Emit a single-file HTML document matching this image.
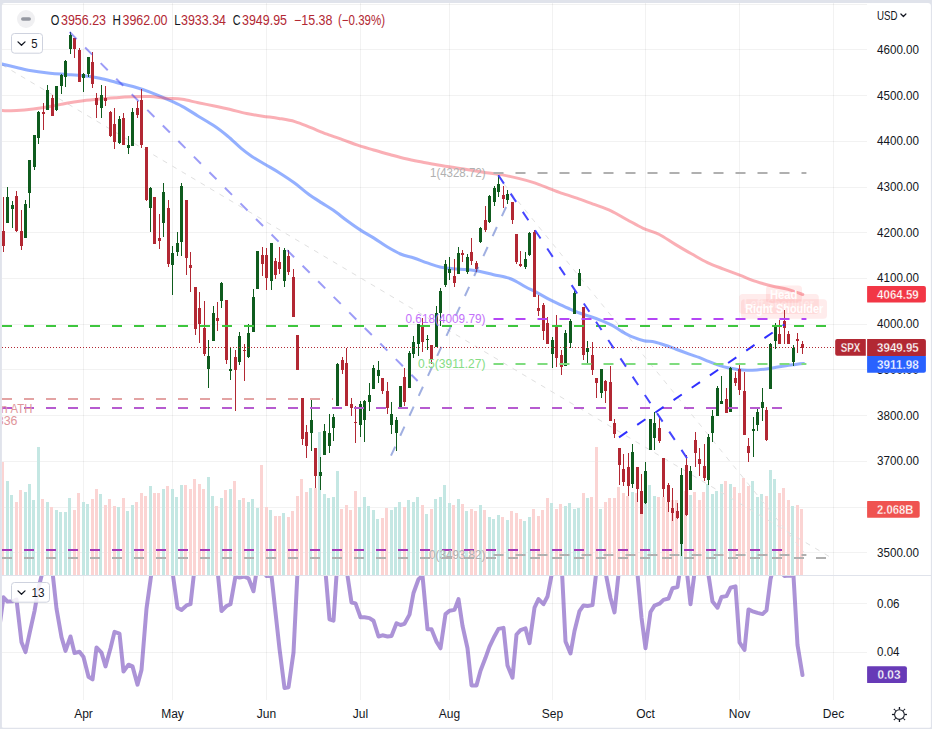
<!DOCTYPE html>
<html><head><meta charset="utf-8"><title>SPX</title>
<style>
html,body{margin:0;padding:0;background:#e0e3eb;}
body{width:932px;height:729px;overflow:hidden;position:relative;font-family:"Liberation Sans", sans-serif;}
svg{position:absolute;left:0;top:0;display:block}
text{font-family:"Liberation Sans", sans-serif;}
</style></head><body>
<svg width="932" height="729" viewBox="0 0 932 729">
<defs><clipPath id="cm"><rect x="2" y="3" width="865" height="572"/></clipPath><clipPath id="ci"><rect x="2" y="576" width="865" height="124"/></clipPath></defs>
<rect x="0" y="0" width="932" height="729" fill="#e0e3eb"/>
<path d="M4.9 2.9 H927.9 Q930.9 2.9 930.9 5.9 V726.2 Q930.9 727.7 929.4 727.7 H3.4 Q1.9 727.7 1.9 726.2 V5.9 Q1.9 2.9 4.9 2.9 Z" fill="#ffffff"/>
<g shape-rendering="crispEdges" fill="#2a332e" fill-opacity="0.062">
<rect x="2" y="4" width="865" height="1"/>
<rect x="2" y="49" width="865" height="1"/>
<rect x="2" y="95" width="865" height="1"/>
<rect x="2" y="141" width="865" height="1"/>
<rect x="2" y="187" width="865" height="1"/>
<rect x="2" y="232" width="865" height="1"/>
<rect x="2" y="278" width="865" height="1"/>
<rect x="2" y="324" width="865" height="1"/>
<rect x="2" y="369" width="865" height="1"/>
<rect x="2" y="415" width="865" height="1"/>
<rect x="2" y="461" width="865" height="1"/>
<rect x="2" y="507" width="865" height="1"/>
<rect x="2" y="552" width="865" height="1"/>
<rect x="2" y="603" width="865" height="1"/>
<rect x="2" y="652" width="865" height="1"/>
<rect x="83" y="3" width="1" height="697"/>
<rect x="172" y="3" width="1" height="697"/>
<rect x="266" y="3" width="1" height="697"/>
<rect x="360" y="3" width="1" height="697"/>
<rect x="449" y="3" width="1" height="697"/>
<rect x="552" y="3" width="1" height="697"/>
<rect x="645" y="3" width="1" height="697"/>
<rect x="739" y="3" width="1" height="697"/>
<rect x="833" y="3" width="1" height="697"/>
</g>
<rect x="2" y="575" width="929" height="1" fill="#e0e3eb" shape-rendering="crispEdges"/>
<g shape-rendering="crispEdges" clip-path="url(#cm)">
<rect x="1" y="462" width="3" height="113" fill="#fbd4d3"/>
<rect x="6" y="481" width="3" height="94" fill="#c4e7e3"/>
<rect x="10" y="495" width="3" height="80" fill="#c4e7e3"/>
<rect x="15" y="502" width="3" height="73" fill="#fbd4d3"/>
<rect x="19" y="490" width="3" height="85" fill="#fbd4d3"/>
<rect x="24" y="492" width="3" height="83" fill="#c4e7e3"/>
<rect x="28" y="484" width="3" height="91" fill="#c4e7e3"/>
<rect x="32" y="500" width="3" height="75" fill="#c4e7e3"/>
<rect x="37" y="447" width="3" height="128" fill="#c4e7e3"/>
<rect x="41" y="499" width="3" height="76" fill="#fbd4d3"/>
<rect x="46" y="502" width="3" height="73" fill="#c4e7e3"/>
<rect x="50" y="507" width="3" height="68" fill="#fbd4d3"/>
<rect x="55" y="510" width="3" height="65" fill="#c4e7e3"/>
<rect x="59" y="512" width="3" height="63" fill="#c4e7e3"/>
<rect x="64" y="512" width="3" height="63" fill="#c4e7e3"/>
<rect x="68" y="498" width="3" height="77" fill="#c4e7e3"/>
<rect x="73" y="510" width="3" height="65" fill="#fbd4d3"/>
<rect x="77" y="493" width="3" height="82" fill="#fbd4d3"/>
<rect x="82" y="502" width="3" height="73" fill="#c4e7e3"/>
<rect x="86" y="504" width="3" height="71" fill="#c4e7e3"/>
<rect x="91" y="499" width="3" height="76" fill="#fbd4d3"/>
<rect x="95" y="489" width="3" height="86" fill="#fbd4d3"/>
<rect x="99" y="494" width="3" height="81" fill="#c4e7e3"/>
<rect x="104" y="505" width="3" height="70" fill="#fbd4d3"/>
<rect x="108" y="499" width="3" height="76" fill="#fbd4d3"/>
<rect x="113" y="506" width="3" height="69" fill="#fbd4d3"/>
<rect x="117" y="507" width="3" height="68" fill="#c4e7e3"/>
<rect x="122" y="498" width="3" height="77" fill="#fbd4d3"/>
<rect x="126" y="511" width="3" height="64" fill="#c4e7e3"/>
<rect x="131" y="505" width="3" height="70" fill="#c4e7e3"/>
<rect x="135" y="502" width="3" height="73" fill="#fbd4d3"/>
<rect x="140" y="493" width="3" height="82" fill="#fbd4d3"/>
<rect x="144" y="496" width="3" height="79" fill="#fbd4d3"/>
<rect x="149" y="486" width="3" height="89" fill="#c4e7e3"/>
<rect x="153" y="493" width="3" height="82" fill="#fbd4d3"/>
<rect x="157" y="493" width="3" height="82" fill="#fbd4d3"/>
<rect x="162" y="489" width="3" height="86" fill="#c4e7e3"/>
<rect x="166" y="486" width="3" height="89" fill="#fbd4d3"/>
<rect x="171" y="489" width="3" height="86" fill="#c4e7e3"/>
<rect x="175" y="497" width="3" height="78" fill="#c4e7e3"/>
<rect x="180" y="485" width="3" height="90" fill="#c4e7e3"/>
<rect x="184" y="485" width="3" height="90" fill="#fbd4d3"/>
<rect x="189" y="489" width="3" height="86" fill="#fbd4d3"/>
<rect x="193" y="479" width="3" height="96" fill="#fbd4d3"/>
<rect x="198" y="484" width="3" height="91" fill="#fbd4d3"/>
<rect x="202" y="489" width="3" height="86" fill="#fbd4d3"/>
<rect x="207" y="477" width="3" height="98" fill="#c4e7e3"/>
<rect x="211" y="496" width="3" height="79" fill="#c4e7e3"/>
<rect x="215" y="506" width="3" height="69" fill="#fbd4d3"/>
<rect x="220" y="498" width="3" height="77" fill="#c4e7e3"/>
<rect x="224" y="490" width="3" height="85" fill="#fbd4d3"/>
<rect x="229" y="489" width="3" height="86" fill="#c4e7e3"/>
<rect x="233" y="481" width="3" height="94" fill="#fbd4d3"/>
<rect x="238" y="500" width="3" height="75" fill="#c4e7e3"/>
<rect x="242" y="498" width="3" height="77" fill="#fbd4d3"/>
<rect x="247" y="502" width="3" height="73" fill="#c4e7e3"/>
<rect x="251" y="499" width="3" height="76" fill="#c4e7e3"/>
<rect x="256" y="508" width="3" height="67" fill="#c4e7e3"/>
<rect x="260" y="465" width="3" height="110" fill="#fbd4d3"/>
<rect x="265" y="507" width="3" height="68" fill="#fbd4d3"/>
<rect x="269" y="510" width="3" height="65" fill="#c4e7e3"/>
<rect x="274" y="516" width="3" height="59" fill="#fbd4d3"/>
<rect x="278" y="516" width="3" height="59" fill="#fbd4d3"/>
<rect x="282" y="513" width="3" height="62" fill="#c4e7e3"/>
<rect x="287" y="517" width="3" height="58" fill="#fbd4d3"/>
<rect x="291" y="511" width="3" height="64" fill="#fbd4d3"/>
<rect x="296" y="496" width="3" height="79" fill="#fbd4d3"/>
<rect x="300" y="479" width="3" height="96" fill="#fbd4d3"/>
<rect x="305" y="492" width="3" height="83" fill="#fbd4d3"/>
<rect x="309" y="488" width="3" height="87" fill="#c4e7e3"/>
<rect x="314" y="488" width="3" height="87" fill="#fbd4d3"/>
<rect x="318" y="432" width="3" height="143" fill="#c4e7e3"/>
<rect x="323" y="494" width="3" height="81" fill="#c4e7e3"/>
<rect x="327" y="498" width="3" height="77" fill="#c4e7e3"/>
<rect x="332" y="497" width="3" height="78" fill="#c4e7e3"/>
<rect x="336" y="471" width="3" height="104" fill="#c4e7e3"/>
<rect x="340" y="509" width="3" height="66" fill="#fbd4d3"/>
<rect x="345" y="505" width="3" height="70" fill="#fbd4d3"/>
<rect x="349" y="510" width="3" height="65" fill="#fbd4d3"/>
<rect x="354" y="491" width="3" height="84" fill="#fbd4d3"/>
<rect x="358" y="507" width="3" height="68" fill="#c4e7e3"/>
<rect x="363" y="497" width="3" height="78" fill="#c4e7e3"/>
<rect x="367" y="506" width="3" height="69" fill="#c4e7e3"/>
<rect x="372" y="510" width="3" height="65" fill="#c4e7e3"/>
<rect x="376" y="519" width="3" height="56" fill="#c4e7e3"/>
<rect x="381" y="518" width="3" height="57" fill="#fbd4d3"/>
<rect x="385" y="508" width="3" height="67" fill="#fbd4d3"/>
<rect x="390" y="510" width="3" height="65" fill="#c4e7e3"/>
<rect x="394" y="507" width="3" height="68" fill="#c4e7e3"/>
<rect x="398" y="502" width="3" height="73" fill="#c4e7e3"/>
<rect x="403" y="507" width="3" height="68" fill="#fbd4d3"/>
<rect x="407" y="500" width="3" height="75" fill="#c4e7e3"/>
<rect x="412" y="502" width="3" height="73" fill="#c4e7e3"/>
<rect x="416" y="497" width="3" height="78" fill="#c4e7e3"/>
<rect x="421" y="505" width="3" height="70" fill="#fbd4d3"/>
<rect x="425" y="514" width="3" height="61" fill="#c4e7e3"/>
<rect x="430" y="509" width="3" height="66" fill="#fbd4d3"/>
<rect x="434" y="499" width="3" height="76" fill="#c4e7e3"/>
<rect x="439" y="497" width="3" height="78" fill="#c4e7e3"/>
<rect x="443" y="485" width="3" height="90" fill="#c4e7e3"/>
<rect x="448" y="503" width="3" height="72" fill="#c4e7e3"/>
<rect x="452" y="505" width="3" height="70" fill="#fbd4d3"/>
<rect x="457" y="499" width="3" height="76" fill="#c4e7e3"/>
<rect x="461" y="504" width="3" height="71" fill="#fbd4d3"/>
<rect x="465" y="511" width="3" height="64" fill="#c4e7e3"/>
<rect x="470" y="509" width="3" height="66" fill="#fbd4d3"/>
<rect x="474" y="511" width="3" height="64" fill="#fbd4d3"/>
<rect x="479" y="505" width="3" height="70" fill="#c4e7e3"/>
<rect x="483" y="510" width="3" height="65" fill="#fbd4d3"/>
<rect x="488" y="517" width="3" height="58" fill="#c4e7e3"/>
<rect x="492" y="519" width="3" height="56" fill="#c4e7e3"/>
<rect x="497" y="515" width="3" height="60" fill="#c4e7e3"/>
<rect x="501" y="517" width="3" height="58" fill="#fbd4d3"/>
<rect x="506" y="520" width="3" height="55" fill="#c4e7e3"/>
<rect x="510" y="511" width="3" height="64" fill="#fbd4d3"/>
<rect x="515" y="513" width="3" height="62" fill="#fbd4d3"/>
<rect x="519" y="519" width="3" height="56" fill="#fbd4d3"/>
<rect x="523" y="521" width="3" height="54" fill="#c4e7e3"/>
<rect x="528" y="517" width="3" height="58" fill="#c4e7e3"/>
<rect x="532" y="509" width="3" height="66" fill="#fbd4d3"/>
<rect x="537" y="516" width="3" height="59" fill="#fbd4d3"/>
<rect x="541" y="510" width="3" height="65" fill="#fbd4d3"/>
<rect x="546" y="498" width="3" height="77" fill="#fbd4d3"/>
<rect x="550" y="503" width="3" height="72" fill="#c4e7e3"/>
<rect x="555" y="509" width="3" height="66" fill="#fbd4d3"/>
<rect x="559" y="504" width="3" height="71" fill="#fbd4d3"/>
<rect x="564" y="506" width="3" height="69" fill="#c4e7e3"/>
<rect x="568" y="503" width="3" height="72" fill="#c4e7e3"/>
<rect x="573" y="509" width="3" height="66" fill="#c4e7e3"/>
<rect x="577" y="508" width="3" height="67" fill="#c4e7e3"/>
<rect x="582" y="493" width="3" height="82" fill="#fbd4d3"/>
<rect x="586" y="498" width="3" height="77" fill="#c4e7e3"/>
<rect x="590" y="497" width="3" height="78" fill="#fbd4d3"/>
<rect x="595" y="447" width="3" height="128" fill="#fbd4d3"/>
<rect x="599" y="509" width="3" height="66" fill="#c4e7e3"/>
<rect x="604" y="502" width="3" height="73" fill="#fbd4d3"/>
<rect x="608" y="498" width="3" height="77" fill="#fbd4d3"/>
<rect x="613" y="498" width="3" height="77" fill="#fbd4d3"/>
<rect x="617" y="487" width="3" height="88" fill="#fbd4d3"/>
<rect x="622" y="493" width="3" height="82" fill="#fbd4d3"/>
<rect x="626" y="496" width="3" height="79" fill="#fbd4d3"/>
<rect x="631" y="492" width="3" height="83" fill="#c4e7e3"/>
<rect x="635" y="493" width="3" height="82" fill="#fbd4d3"/>
<rect x="640" y="492" width="3" height="83" fill="#fbd4d3"/>
<rect x="644" y="495" width="3" height="80" fill="#c4e7e3"/>
<rect x="648" y="485" width="3" height="90" fill="#c4e7e3"/>
<rect x="653" y="496" width="3" height="79" fill="#c4e7e3"/>
<rect x="657" y="497" width="3" height="78" fill="#fbd4d3"/>
<rect x="662" y="497" width="3" height="78" fill="#fbd4d3"/>
<rect x="666" y="502" width="3" height="73" fill="#fbd4d3"/>
<rect x="671" y="500" width="3" height="75" fill="#fbd4d3"/>
<rect x="675" y="500" width="3" height="75" fill="#fbd4d3"/>
<rect x="680" y="480" width="3" height="95" fill="#c4e7e3"/>
<rect x="684" y="491" width="3" height="84" fill="#fbd4d3"/>
<rect x="689" y="495" width="3" height="80" fill="#c4e7e3"/>
<rect x="693" y="492" width="3" height="83" fill="#fbd4d3"/>
<rect x="698" y="500" width="3" height="75" fill="#fbd4d3"/>
<rect x="702" y="492" width="3" height="83" fill="#fbd4d3"/>
<rect x="706" y="484" width="3" height="91" fill="#c4e7e3"/>
<rect x="711" y="494" width="3" height="81" fill="#c4e7e3"/>
<rect x="715" y="491" width="3" height="84" fill="#c4e7e3"/>
<rect x="720" y="484" width="3" height="91" fill="#c4e7e3"/>
<rect x="724" y="481" width="3" height="94" fill="#fbd4d3"/>
<rect x="729" y="484" width="3" height="91" fill="#c4e7e3"/>
<rect x="733" y="487" width="3" height="88" fill="#fbd4d3"/>
<rect x="738" y="493" width="3" height="82" fill="#fbd4d3"/>
<rect x="742" y="478" width="3" height="97" fill="#fbd4d3"/>
<rect x="747" y="486" width="3" height="89" fill="#fbd4d3"/>
<rect x="751" y="481" width="3" height="94" fill="#c4e7e3"/>
<rect x="756" y="497" width="3" height="78" fill="#c4e7e3"/>
<rect x="760" y="494" width="3" height="81" fill="#c4e7e3"/>
<rect x="765" y="496" width="3" height="79" fill="#fbd4d3"/>
<rect x="769" y="470" width="3" height="105" fill="#c4e7e3"/>
<rect x="773" y="479" width="3" height="96" fill="#c4e7e3"/>
<rect x="778" y="493" width="3" height="82" fill="#fbd4d3"/>
<rect x="782" y="488" width="3" height="87" fill="#fbd4d3"/>
<rect x="787" y="500" width="3" height="75" fill="#fbd4d3"/>
<rect x="791" y="506" width="3" height="69" fill="#c4e7e3"/>
<rect x="796" y="505" width="3" height="70" fill="#fbd4d3"/>
<rect x="800" y="509" width="3" height="66" fill="#fbd4d3"/>
</g>
<g clip-path="url(#cm)" fill="none">
<path d="M2 64.8 L830 557" stroke="#e0e0e0" stroke-width="1" stroke-dasharray="5 6"/>
<path d="M497 175.5 L803.7 552" stroke="#e2e2e2" stroke-width="1" stroke-dasharray="5 6"/>
<path d="M2.0 64.1 C4.4 64.6 12.2 66.4 16.6 67.4 C21.0 68.4 22.8 69.2 28.3 70.2 C33.9 71.2 43.5 72.5 49.9 73.2 C56.3 73.9 61.0 74.0 66.5 74.4 C72.0 74.8 77.7 75.1 83.2 75.7 C88.8 76.3 94.3 77.1 99.8 78.2 C105.3 79.3 110.9 81.0 116.4 82.4 C121.9 83.8 127.4 84.9 133.0 86.5 C138.6 88.1 144.5 90.0 150.0 92.1 C155.5 94.1 160.7 96.4 166.1 98.8 C171.5 101.2 176.8 103.4 182.2 106.3 C187.6 109.2 192.9 112.9 198.3 116.2 C203.7 119.5 209.5 122.8 214.4 126.1 C219.3 129.4 223.3 132.6 227.8 136.3 C232.3 140.0 237.2 145.1 241.2 148.4 C245.2 151.8 247.9 153.7 251.9 156.4 C255.9 159.1 260.8 161.8 265.3 164.5 C269.8 167.2 273.9 169.4 278.8 172.5 C283.7 175.6 290.0 179.7 294.9 183.3 C299.8 186.9 303.8 190.7 308.3 194.0 C312.8 197.3 317.5 200.2 321.7 202.9 C325.9 205.6 329.2 207.4 333.4 210.3 C337.6 213.2 342.3 217.2 346.8 220.5 C351.3 223.8 355.7 227.0 360.2 229.9 C364.7 232.8 369.1 235.1 373.6 237.9 C378.1 240.7 382.6 244.1 387.1 246.8 C391.6 249.5 396.0 252.1 400.5 254.0 C405.0 255.9 409.4 256.5 413.9 258.0 C418.4 259.5 422.9 261.4 427.3 262.9 C431.7 264.4 435.6 266.0 440.0 267.0 C444.4 268.0 448.9 268.4 453.4 268.8 C457.9 269.2 462.3 269.2 466.8 269.6 C471.3 270.1 475.7 270.6 480.2 271.5 C484.7 272.4 489.1 273.7 493.6 274.7 C498.1 275.7 503.5 276.6 507.1 277.6 C510.7 278.6 512.0 279.2 515.1 280.8 C518.2 282.4 522.2 285.1 525.8 287.0 C529.4 288.9 533.0 290.5 536.6 292.4 C540.2 294.3 543.7 296.4 547.3 298.3 C550.9 300.2 554.4 301.9 558.0 303.6 C561.6 305.3 565.2 306.9 568.8 308.5 C572.4 310.1 575.9 311.7 579.5 313.0 C583.1 314.3 586.6 315.3 590.2 316.5 C593.8 317.7 597.3 318.9 600.9 320.3 C604.5 321.7 608.1 323.2 611.7 325.1 C615.3 327.0 618.8 329.8 622.4 331.8 C626.0 333.8 629.5 335.7 633.1 337.2 C636.7 338.7 640.3 339.9 643.9 340.7 C647.5 341.5 651.0 341.2 654.6 342.0 C658.2 342.8 661.7 344.0 665.3 345.2 C668.9 346.4 672.1 347.7 676.1 349.2 C680.1 350.7 685.5 352.7 689.3 354.1 C693.1 355.5 695.8 356.2 699.0 357.4 C702.2 358.6 705.4 360.1 708.6 361.4 C711.8 362.7 715.1 364.0 718.3 365.1 C721.5 366.2 724.7 367.1 727.9 367.8 C731.1 368.5 734.4 369.0 737.6 369.4 C740.8 369.8 744.1 370.1 747.3 370.2 C750.5 370.3 753.7 370.1 756.9 369.9 C760.1 369.7 763.4 369.4 766.6 369.0 C769.8 368.6 773.0 367.9 776.2 367.3 C779.4 366.8 782.7 366.2 785.9 365.7 C789.1 365.2 792.5 364.8 795.5 364.4 C798.5 364.0 802.2 363.6 803.6 363.5" stroke="#2962ff" stroke-opacity="0.5" stroke-width="3.05" stroke-linejoin="round" stroke-linecap="round"/>
<path d="M2.0 110.6 C4.4 110.6 11.4 110.9 16.6 110.6 C21.8 110.3 27.7 109.7 33.3 109.0 C38.8 108.3 44.4 107.5 49.9 106.5 C55.4 105.5 61.0 104.2 66.5 103.2 C72.0 102.2 77.7 101.4 83.2 100.7 C88.8 100.0 94.3 99.5 99.8 99.0 C105.3 98.5 110.9 98.1 116.4 97.7 C121.9 97.3 127.4 97.0 133.0 96.8 C138.6 96.6 144.5 96.4 150.0 96.6 C155.5 96.8 160.7 97.8 166.1 98.2 C171.5 98.7 176.8 98.5 182.2 99.3 C187.6 100.1 192.9 101.7 198.3 102.8 C203.7 103.9 209.0 104.9 214.4 106.0 C219.8 107.1 225.1 108.2 230.5 109.5 C235.9 110.8 241.2 112.4 246.6 113.5 C252.0 114.6 257.3 115.4 262.7 116.2 C268.1 117.0 273.4 117.5 278.8 118.4 C284.2 119.3 289.5 120.0 294.9 121.6 C300.2 123.1 305.5 125.6 310.9 127.7 C316.2 129.8 321.6 132.2 327.0 134.2 C332.4 136.2 338.0 138.0 343.1 139.8 C348.2 141.6 352.5 143.5 357.6 145.2 C362.7 146.9 368.2 148.4 373.6 150.0 C379.0 151.6 384.3 153.0 389.7 154.5 C395.1 156.0 400.4 157.6 405.8 158.8 C411.2 160.1 416.5 161.0 421.9 162.0 C427.3 163.0 432.6 164.0 438.0 164.9 C443.4 165.8 448.7 166.6 454.1 167.4 C459.5 168.2 464.8 169.1 470.2 170.0 C475.6 170.9 480.9 171.9 486.3 172.7 C491.7 173.5 497.0 173.9 502.4 174.9 C507.8 175.9 513.1 177.1 518.5 178.4 C523.9 179.7 529.2 181.1 534.6 182.9 C540.0 184.7 546.5 187.5 550.7 189.1 C554.9 190.7 555.3 191.0 560.0 192.6 C564.7 194.2 573.0 196.8 578.8 198.8 C584.6 200.8 589.5 202.7 594.9 204.7 C600.3 206.7 605.6 208.3 611.0 210.8 C616.4 213.3 621.7 216.8 627.1 219.7 C632.5 222.6 637.8 225.8 643.2 228.3 C648.6 230.8 653.9 231.8 659.3 234.5 C664.6 237.2 669.9 241.2 675.3 244.4 C680.6 247.6 686.0 250.8 691.4 253.8 C696.8 256.8 702.1 260.1 707.5 262.6 C712.9 265.2 718.2 267.0 723.6 269.1 C729.0 271.2 734.3 273.1 739.7 275.2 C745.1 277.2 750.4 279.6 755.8 281.4 C761.2 283.2 766.5 284.7 771.9 286.0 C777.3 287.3 782.9 288.0 788.0 289.4 C793.1 290.8 800.3 293.6 802.8 294.5" stroke="#f23645" stroke-opacity="0.4" stroke-width="3" stroke-linejoin="round" stroke-linecap="round"/>
</g>
<g font-size="12" font-weight="bold" fill="#fff" text-anchor="middle">
<rect x="739.2" y="294" width="79.6" height="20" rx="3.5" fill="#ff5252" fill-opacity="0.11"/>
<text x="779" y="308.3" fill-opacity="0.75" textLength="70" lengthAdjust="spacingAndGlyphs">Left Shoulder</text>
<rect x="766" y="285.4" width="36" height="17.3" rx="3.5" fill="#ff5252" fill-opacity="0.11"/>
<text x="783.7" y="298.8" fill-opacity="0.95" textLength="27.5" lengthAdjust="spacingAndGlyphs">Head</text>
<rect x="741" y="299.2" width="86" height="19.5" rx="3.5" fill="#ff5252" fill-opacity="0.11"/>
<text x="784.2" y="313" fill-opacity="0.97" textLength="78" lengthAdjust="spacingAndGlyphs">Right Shoulder</text>
</g>
<g shape-rendering="crispEdges" clip-path="url(#cm)">
<rect x="3" y="197" width="1" height="55" fill="#b22833"/>
<rect x="2" y="231" width="3" height="15" fill="#b22833"/>
<rect x="7" y="187" width="1" height="36" fill="#0f5c1e"/>
<rect x="6" y="197" width="3" height="26" fill="#0f5c1e"/>
<rect x="12" y="201" width="1" height="27" fill="#0f5c1e"/>
<rect x="11" y="205" width="3" height="4" fill="#0f5c1e"/>
<rect x="16" y="191" width="1" height="41" fill="#b22833"/>
<rect x="15" y="196" width="3" height="35" fill="#b22833"/>
<rect x="21" y="210" width="1" height="40" fill="#b22833"/>
<rect x="20" y="231" width="3" height="15" fill="#b22833"/>
<rect x="25" y="200" width="1" height="38" fill="#0f5c1e"/>
<rect x="24" y="204" width="3" height="34" fill="#0f5c1e"/>
<rect x="29" y="160" width="1" height="48" fill="#0f5c1e"/>
<rect x="28" y="160" width="3" height="33" fill="#0f5c1e"/>
<rect x="34" y="135" width="1" height="35" fill="#0f5c1e"/>
<rect x="33" y="135" width="3" height="32" fill="#0f5c1e"/>
<rect x="38" y="111" width="1" height="33" fill="#0f5c1e"/>
<rect x="37" y="112" width="3" height="26" fill="#0f5c1e"/>
<rect x="43" y="103" width="1" height="27" fill="#b22833"/>
<rect x="42" y="112" width="3" height="2" fill="#b22833"/>
<rect x="47" y="85" width="1" height="25" fill="#0f5c1e"/>
<rect x="46" y="90" width="3" height="20" fill="#0f5c1e"/>
<rect x="52" y="95" width="1" height="21" fill="#b22833"/>
<rect x="51" y="98" width="3" height="18" fill="#b22833"/>
<rect x="56" y="86" width="1" height="25" fill="#0f5c1e"/>
<rect x="55" y="86" width="3" height="24" fill="#0f5c1e"/>
<rect x="61" y="74" width="1" height="20" fill="#0f5c1e"/>
<rect x="60" y="75" width="3" height="11" fill="#0f5c1e"/>
<rect x="65" y="60" width="1" height="27" fill="#0f5c1e"/>
<rect x="64" y="61" width="3" height="16" fill="#0f5c1e"/>
<rect x="70" y="32" width="1" height="22" fill="#0f5c1e"/>
<rect x="69" y="35" width="3" height="14" fill="#0f5c1e"/>
<rect x="74" y="38" width="1" height="20" fill="#b22833"/>
<rect x="73" y="38" width="3" height="11" fill="#b22833"/>
<rect x="79" y="48" width="1" height="34" fill="#b22833"/>
<rect x="78" y="50" width="3" height="32" fill="#b22833"/>
<rect x="83" y="73" width="1" height="19" fill="#0f5c1e"/>
<rect x="82" y="74" width="3" height="4" fill="#0f5c1e"/>
<rect x="88" y="57" width="1" height="20" fill="#0f5c1e"/>
<rect x="87" y="57" width="3" height="17" fill="#0f5c1e"/>
<rect x="92" y="52" width="1" height="36" fill="#b22833"/>
<rect x="91" y="62" width="3" height="22" fill="#b22833"/>
<rect x="96" y="93" width="1" height="25" fill="#b22833"/>
<rect x="95" y="98" width="3" height="7" fill="#b22833"/>
<rect x="101" y="85" width="1" height="33" fill="#0f5c1e"/>
<rect x="100" y="95" width="3" height="13" fill="#0f5c1e"/>
<rect x="105" y="86" width="1" height="20" fill="#b22833"/>
<rect x="104" y="98" width="3" height="3" fill="#b22833"/>
<rect x="110" y="111" width="1" height="26" fill="#b22833"/>
<rect x="109" y="112" width="3" height="24" fill="#b22833"/>
<rect x="114" y="108" width="1" height="41" fill="#b22833"/>
<rect x="113" y="124" width="3" height="18" fill="#b22833"/>
<rect x="119" y="116" width="1" height="28" fill="#0f5c1e"/>
<rect x="118" y="119" width="3" height="24" fill="#0f5c1e"/>
<rect x="123" y="113" width="1" height="32" fill="#b22833"/>
<rect x="122" y="118" width="3" height="27" fill="#b22833"/>
<rect x="128" y="136" width="1" height="18" fill="#0f5c1e"/>
<rect x="127" y="145" width="3" height="3" fill="#0f5c1e"/>
<rect x="132" y="108" width="1" height="38" fill="#0f5c1e"/>
<rect x="131" y="112" width="3" height="34" fill="#0f5c1e"/>
<rect x="137" y="101" width="1" height="17" fill="#b22833"/>
<rect x="136" y="108" width="3" height="7" fill="#b22833"/>
<rect x="141" y="89" width="1" height="59" fill="#b22833"/>
<rect x="140" y="100" width="3" height="45" fill="#b22833"/>
<rect x="146" y="147" width="1" height="54" fill="#b22833"/>
<rect x="145" y="147" width="3" height="53" fill="#b22833"/>
<rect x="150" y="187" width="1" height="45" fill="#0f5c1e"/>
<rect x="149" y="188" width="3" height="20" fill="#0f5c1e"/>
<rect x="154" y="197" width="1" height="47" fill="#b22833"/>
<rect x="153" y="197" width="3" height="47" fill="#b22833"/>
<rect x="159" y="214" width="1" height="35" fill="#b22833"/>
<rect x="158" y="238" width="3" height="3" fill="#b22833"/>
<rect x="163" y="183" width="1" height="54" fill="#0f5c1e"/>
<rect x="162" y="192" width="3" height="31" fill="#0f5c1e"/>
<rect x="168" y="200" width="1" height="67" fill="#b22833"/>
<rect x="167" y="208" width="3" height="56" fill="#b22833"/>
<rect x="172" y="246" width="1" height="49" fill="#0f5c1e"/>
<rect x="171" y="253" width="3" height="12" fill="#0f5c1e"/>
<rect x="177" y="232" width="1" height="24" fill="#0f5c1e"/>
<rect x="176" y="243" width="3" height="9" fill="#0f5c1e"/>
<rect x="181" y="183" width="1" height="73" fill="#0f5c1e"/>
<rect x="180" y="186" width="3" height="56" fill="#0f5c1e"/>
<rect x="186" y="200" width="1" height="75" fill="#b22833"/>
<rect x="185" y="200" width="3" height="58" fill="#b22833"/>
<rect x="190" y="252" width="1" height="40" fill="#b22833"/>
<rect x="189" y="265" width="3" height="3" fill="#b22833"/>
<rect x="195" y="287" width="1" height="48" fill="#b22833"/>
<rect x="194" y="287" width="3" height="42" fill="#b22833"/>
<rect x="199" y="292" width="1" height="51" fill="#b22833"/>
<rect x="198" y="308" width="3" height="16" fill="#b22833"/>
<rect x="204" y="301" width="1" height="55" fill="#b22833"/>
<rect x="203" y="328" width="3" height="26" fill="#b22833"/>
<rect x="208" y="340" width="1" height="48" fill="#0f5c1e"/>
<rect x="207" y="356" width="3" height="13" fill="#0f5c1e"/>
<rect x="213" y="306" width="1" height="35" fill="#0f5c1e"/>
<rect x="212" y="313" width="3" height="28" fill="#0f5c1e"/>
<rect x="217" y="302" width="1" height="29" fill="#b22833"/>
<rect x="216" y="318" width="3" height="3" fill="#b22833"/>
<rect x="221" y="282" width="1" height="26" fill="#0f5c1e"/>
<rect x="220" y="283" width="3" height="18" fill="#0f5c1e"/>
<rect x="226" y="300" width="1" height="64" fill="#b22833"/>
<rect x="225" y="300" width="3" height="60" fill="#b22833"/>
<rect x="230" y="347" width="1" height="33" fill="#0f5c1e"/>
<rect x="229" y="369" width="3" height="2" fill="#0f5c1e"/>
<rect x="235" y="350" width="1" height="61" fill="#b22833"/>
<rect x="234" y="357" width="3" height="13" fill="#b22833"/>
<rect x="239" y="332" width="1" height="33" fill="#0f5c1e"/>
<rect x="238" y="336" width="3" height="26" fill="#0f5c1e"/>
<rect x="244" y="344" width="1" height="37" fill="#b22833"/>
<rect x="243" y="350" width="3" height="1" fill="#b22833"/>
<rect x="248" y="324" width="1" height="34" fill="#0f5c1e"/>
<rect x="247" y="333" width="3" height="24" fill="#0f5c1e"/>
<rect x="253" y="289" width="1" height="43" fill="#0f5c1e"/>
<rect x="252" y="297" width="3" height="35" fill="#0f5c1e"/>
<rect x="257" y="251" width="1" height="38" fill="#0f5c1e"/>
<rect x="256" y="251" width="3" height="38" fill="#0f5c1e"/>
<rect x="262" y="247" width="1" height="29" fill="#b22833"/>
<rect x="261" y="255" width="3" height="9" fill="#b22833"/>
<rect x="266" y="248" width="1" height="42" fill="#b22833"/>
<rect x="265" y="255" width="3" height="23" fill="#b22833"/>
<rect x="271" y="243" width="1" height="47" fill="#0f5c1e"/>
<rect x="270" y="243" width="3" height="38" fill="#0f5c1e"/>
<rect x="275" y="258" width="1" height="21" fill="#b22833"/>
<rect x="274" y="261" width="3" height="14" fill="#b22833"/>
<rect x="279" y="247" width="1" height="27" fill="#b22833"/>
<rect x="278" y="262" width="3" height="7" fill="#b22833"/>
<rect x="284" y="248" width="1" height="39" fill="#0f5c1e"/>
<rect x="283" y="250" width="3" height="31" fill="#0f5c1e"/>
<rect x="288" y="250" width="1" height="25" fill="#b22833"/>
<rect x="287" y="256" width="3" height="16" fill="#b22833"/>
<rect x="293" y="269" width="1" height="48" fill="#b22833"/>
<rect x="292" y="277" width="3" height="40" fill="#b22833"/>
<rect x="297" y="335" width="1" height="35" fill="#b22833"/>
<rect x="296" y="335" width="3" height="35" fill="#b22833"/>
<rect x="302" y="398" width="1" height="47" fill="#b22833"/>
<rect x="301" y="398" width="3" height="41" fill="#b22833"/>
<rect x="306" y="425" width="1" height="33" fill="#b22833"/>
<rect x="305" y="432" width="3" height="14" fill="#b22833"/>
<rect x="311" y="398" width="1" height="53" fill="#0f5c1e"/>
<rect x="310" y="420" width="3" height="13" fill="#0f5c1e"/>
<rect x="315" y="448" width="1" height="40" fill="#b22833"/>
<rect x="314" y="448" width="3" height="28" fill="#b22833"/>
<rect x="320" y="457" width="1" height="33" fill="#0f5c1e"/>
<rect x="319" y="472" width="3" height="4" fill="#0f5c1e"/>
<rect x="324" y="424" width="1" height="31" fill="#0f5c1e"/>
<rect x="323" y="431" width="3" height="24" fill="#0f5c1e"/>
<rect x="329" y="414" width="1" height="39" fill="#0f5c1e"/>
<rect x="328" y="433" width="3" height="13" fill="#0f5c1e"/>
<rect x="333" y="414" width="1" height="27" fill="#0f5c1e"/>
<rect x="332" y="417" width="3" height="11" fill="#0f5c1e"/>
<rect x="337" y="363" width="1" height="43" fill="#0f5c1e"/>
<rect x="336" y="364" width="3" height="42" fill="#0f5c1e"/>
<rect x="342" y="357" width="1" height="17" fill="#b22833"/>
<rect x="341" y="360" width="3" height="10" fill="#b22833"/>
<rect x="346" y="348" width="1" height="58" fill="#b22833"/>
<rect x="345" y="363" width="3" height="43" fill="#b22833"/>
<rect x="351" y="398" width="1" height="18" fill="#b22833"/>
<rect x="350" y="404" width="3" height="4" fill="#b22833"/>
<rect x="355" y="406" width="1" height="37" fill="#b22833"/>
<rect x="354" y="422" width="3" height="1" fill="#b22833"/>
<rect x="360" y="401" width="1" height="36" fill="#0f5c1e"/>
<rect x="359" y="404" width="3" height="21" fill="#0f5c1e"/>
<rect x="364" y="400" width="1" height="42" fill="#0f5c1e"/>
<rect x="363" y="401" width="3" height="19" fill="#0f5c1e"/>
<rect x="369" y="383" width="1" height="28" fill="#0f5c1e"/>
<rect x="368" y="395" width="3" height="7" fill="#0f5c1e"/>
<rect x="373" y="365" width="1" height="24" fill="#0f5c1e"/>
<rect x="372" y="368" width="3" height="21" fill="#0f5c1e"/>
<rect x="378" y="361" width="1" height="22" fill="#0f5c1e"/>
<rect x="377" y="370" width="3" height="6" fill="#0f5c1e"/>
<rect x="382" y="378" width="1" height="16" fill="#b22833"/>
<rect x="381" y="378" width="3" height="13" fill="#b22833"/>
<rect x="387" y="382" width="1" height="32" fill="#b22833"/>
<rect x="386" y="391" width="3" height="17" fill="#b22833"/>
<rect x="391" y="402" width="1" height="32" fill="#0f5c1e"/>
<rect x="390" y="414" width="3" height="11" fill="#0f5c1e"/>
<rect x="396" y="417" width="1" height="34" fill="#0f5c1e"/>
<rect x="395" y="420" width="3" height="13" fill="#0f5c1e"/>
<rect x="400" y="386" width="1" height="21" fill="#0f5c1e"/>
<rect x="399" y="386" width="3" height="21" fill="#0f5c1e"/>
<rect x="404" y="368" width="1" height="38" fill="#b22833"/>
<rect x="403" y="377" width="3" height="25" fill="#b22833"/>
<rect x="409" y="351" width="1" height="37" fill="#0f5c1e"/>
<rect x="408" y="353" width="3" height="35" fill="#0f5c1e"/>
<rect x="413" y="336" width="1" height="22" fill="#0f5c1e"/>
<rect x="412" y="342" width="3" height="12" fill="#0f5c1e"/>
<rect x="418" y="324" width="1" height="32" fill="#0f5c1e"/>
<rect x="417" y="324" width="3" height="20" fill="#0f5c1e"/>
<rect x="422" y="318" width="1" height="34" fill="#b22833"/>
<rect x="421" y="325" width="3" height="17" fill="#b22833"/>
<rect x="427" y="335" width="1" height="15" fill="#0f5c1e"/>
<rect x="426" y="339" width="3" height="1" fill="#0f5c1e"/>
<rect x="431" y="345" width="1" height="19" fill="#b22833"/>
<rect x="430" y="345" width="3" height="15" fill="#b22833"/>
<rect x="436" y="306" width="1" height="41" fill="#0f5c1e"/>
<rect x="435" y="313" width="3" height="34" fill="#0f5c1e"/>
<rect x="440" y="288" width="1" height="38" fill="#0f5c1e"/>
<rect x="439" y="291" width="3" height="22" fill="#0f5c1e"/>
<rect x="445" y="260" width="1" height="27" fill="#0f5c1e"/>
<rect x="444" y="264" width="3" height="21" fill="#0f5c1e"/>
<rect x="449" y="257" width="1" height="23" fill="#0f5c1e"/>
<rect x="448" y="269" width="3" height="4" fill="#0f5c1e"/>
<rect x="454" y="259" width="1" height="28" fill="#b22833"/>
<rect x="453" y="276" width="3" height="7" fill="#b22833"/>
<rect x="458" y="247" width="1" height="27" fill="#0f5c1e"/>
<rect x="457" y="253" width="3" height="21" fill="#0f5c1e"/>
<rect x="462" y="250" width="1" height="12" fill="#b22833"/>
<rect x="461" y="253" width="3" height="2" fill="#b22833"/>
<rect x="467" y="254" width="1" height="20" fill="#0f5c1e"/>
<rect x="466" y="257" width="3" height="15" fill="#0f5c1e"/>
<rect x="471" y="238" width="1" height="27" fill="#b22833"/>
<rect x="470" y="252" width="3" height="9" fill="#b22833"/>
<rect x="476" y="261" width="1" height="11" fill="#b22833"/>
<rect x="475" y="263" width="3" height="6" fill="#b22833"/>
<rect x="480" y="227" width="1" height="16" fill="#0f5c1e"/>
<rect x="479" y="228" width="3" height="14" fill="#0f5c1e"/>
<rect x="485" y="206" width="1" height="26" fill="#b22833"/>
<rect x="484" y="220" width="3" height="10" fill="#b22833"/>
<rect x="489" y="195" width="1" height="28" fill="#0f5c1e"/>
<rect x="488" y="196" width="3" height="26" fill="#0f5c1e"/>
<rect x="494" y="186" width="1" height="20" fill="#0f5c1e"/>
<rect x="493" y="188" width="3" height="14" fill="#0f5c1e"/>
<rect x="498" y="175" width="1" height="22" fill="#0f5c1e"/>
<rect x="497" y="184" width="3" height="8" fill="#0f5c1e"/>
<rect x="503" y="186" width="1" height="22" fill="#b22833"/>
<rect x="502" y="195" width="3" height="4" fill="#b22833"/>
<rect x="507" y="190" width="1" height="14" fill="#0f5c1e"/>
<rect x="506" y="194" width="3" height="6" fill="#0f5c1e"/>
<rect x="512" y="202" width="1" height="22" fill="#b22833"/>
<rect x="511" y="202" width="3" height="18" fill="#b22833"/>
<rect x="516" y="234" width="1" height="30" fill="#b22833"/>
<rect x="515" y="234" width="3" height="28" fill="#b22833"/>
<rect x="520" y="251" width="1" height="16" fill="#b22833"/>
<rect x="519" y="264" width="3" height="2" fill="#b22833"/>
<rect x="525" y="252" width="1" height="17" fill="#0f5c1e"/>
<rect x="524" y="259" width="3" height="8" fill="#0f5c1e"/>
<rect x="529" y="232" width="1" height="24" fill="#0f5c1e"/>
<rect x="528" y="233" width="3" height="22" fill="#0f5c1e"/>
<rect x="534" y="230" width="1" height="67" fill="#b22833"/>
<rect x="533" y="232" width="3" height="65" fill="#b22833"/>
<rect x="538" y="295" width="1" height="21" fill="#b22833"/>
<rect x="537" y="308" width="3" height="3" fill="#b22833"/>
<rect x="543" y="303" width="1" height="37" fill="#b22833"/>
<rect x="542" y="305" width="3" height="26" fill="#b22833"/>
<rect x="547" y="317" width="1" height="27" fill="#b22833"/>
<rect x="546" y="323" width="3" height="21" fill="#b22833"/>
<rect x="552" y="337" width="1" height="31" fill="#0f5c1e"/>
<rect x="551" y="340" width="3" height="14" fill="#0f5c1e"/>
<rect x="556" y="315" width="1" height="52" fill="#b22833"/>
<rect x="555" y="326" width="3" height="32" fill="#b22833"/>
<rect x="561" y="350" width="1" height="25" fill="#b22833"/>
<rect x="560" y="355" width="3" height="12" fill="#b22833"/>
<rect x="565" y="330" width="1" height="36" fill="#0f5c1e"/>
<rect x="564" y="333" width="3" height="33" fill="#0f5c1e"/>
<rect x="570" y="319" width="1" height="29" fill="#0f5c1e"/>
<rect x="569" y="321" width="3" height="22" fill="#0f5c1e"/>
<rect x="574" y="290" width="1" height="24" fill="#0f5c1e"/>
<rect x="573" y="293" width="3" height="21" fill="#0f5c1e"/>
<rect x="579" y="269" width="1" height="17" fill="#0f5c1e"/>
<rect x="578" y="273" width="3" height="13" fill="#0f5c1e"/>
<rect x="583" y="307" width="1" height="53" fill="#b22833"/>
<rect x="582" y="307" width="3" height="48" fill="#b22833"/>
<rect x="587" y="341" width="1" height="23" fill="#0f5c1e"/>
<rect x="586" y="348" width="3" height="4" fill="#0f5c1e"/>
<rect x="592" y="342" width="1" height="33" fill="#b22833"/>
<rect x="591" y="355" width="3" height="15" fill="#b22833"/>
<rect x="596" y="378" width="1" height="20" fill="#b22833"/>
<rect x="595" y="378" width="3" height="5" fill="#b22833"/>
<rect x="601" y="369" width="1" height="29" fill="#0f5c1e"/>
<rect x="600" y="369" width="3" height="24" fill="#0f5c1e"/>
<rect x="605" y="380" width="1" height="23" fill="#b22833"/>
<rect x="604" y="381" width="3" height="10" fill="#b22833"/>
<rect x="610" y="366" width="1" height="55" fill="#b22833"/>
<rect x="609" y="382" width="3" height="39" fill="#b22833"/>
<rect x="614" y="419" width="1" height="19" fill="#b22833"/>
<rect x="613" y="423" width="3" height="11" fill="#b22833"/>
<rect x="619" y="448" width="1" height="37" fill="#b22833"/>
<rect x="618" y="448" width="3" height="17" fill="#b22833"/>
<rect x="623" y="454" width="1" height="32" fill="#b22833"/>
<rect x="622" y="469" width="3" height="13" fill="#b22833"/>
<rect x="628" y="453" width="1" height="43" fill="#b22833"/>
<rect x="627" y="467" width="3" height="19" fill="#b22833"/>
<rect x="632" y="444" width="1" height="44" fill="#0f5c1e"/>
<rect x="631" y="452" width="3" height="32" fill="#0f5c1e"/>
<rect x="637" y="467" width="1" height="35" fill="#b22833"/>
<rect x="636" y="467" width="3" height="22" fill="#b22833"/>
<rect x="641" y="474" width="1" height="40" fill="#b22833"/>
<rect x="640" y="491" width="3" height="23" fill="#b22833"/>
<rect x="645" y="462" width="1" height="42" fill="#0f5c1e"/>
<rect x="644" y="471" width="3" height="32" fill="#0f5c1e"/>
<rect x="650" y="419" width="1" height="31" fill="#0f5c1e"/>
<rect x="649" y="419" width="3" height="31" fill="#0f5c1e"/>
<rect x="654" y="412" width="1" height="38" fill="#0f5c1e"/>
<rect x="653" y="423" width="3" height="15" fill="#0f5c1e"/>
<rect x="659" y="416" width="1" height="27" fill="#b22833"/>
<rect x="658" y="428" width="3" height="13" fill="#b22833"/>
<rect x="663" y="458" width="1" height="39" fill="#b22833"/>
<rect x="662" y="458" width="3" height="31" fill="#b22833"/>
<rect x="668" y="483" width="1" height="29" fill="#b22833"/>
<rect x="667" y="485" width="3" height="17" fill="#b22833"/>
<rect x="672" y="488" width="1" height="33" fill="#b22833"/>
<rect x="671" y="508" width="3" height="5" fill="#b22833"/>
<rect x="677" y="503" width="1" height="16" fill="#b22833"/>
<rect x="676" y="511" width="3" height="7" fill="#b22833"/>
<rect x="681" y="468" width="1" height="88" fill="#0f5c1e"/>
<rect x="680" y="475" width="3" height="69" fill="#0f5c1e"/>
<rect x="686" y="455" width="1" height="61" fill="#b22833"/>
<rect x="685" y="465" width="3" height="50" fill="#b22833"/>
<rect x="690" y="466" width="1" height="24" fill="#0f5c1e"/>
<rect x="689" y="471" width="3" height="19" fill="#0f5c1e"/>
<rect x="695" y="432" width="1" height="35" fill="#b22833"/>
<rect x="694" y="440" width="3" height="13" fill="#b22833"/>
<rect x="699" y="448" width="1" height="28" fill="#b22833"/>
<rect x="698" y="459" width="3" height="5" fill="#b22833"/>
<rect x="704" y="444" width="1" height="37" fill="#b22833"/>
<rect x="703" y="466" width="3" height="12" fill="#b22833"/>
<rect x="708" y="434" width="1" height="51" fill="#0f5c1e"/>
<rect x="707" y="437" width="3" height="43" fill="#0f5c1e"/>
<rect x="712" y="410" width="1" height="32" fill="#0f5c1e"/>
<rect x="711" y="416" width="3" height="17" fill="#0f5c1e"/>
<rect x="717" y="386" width="1" height="30" fill="#0f5c1e"/>
<rect x="716" y="388" width="3" height="28" fill="#0f5c1e"/>
<rect x="721" y="376" width="1" height="28" fill="#0f5c1e"/>
<rect x="720" y="401" width="3" height="3" fill="#0f5c1e"/>
<rect x="726" y="388" width="1" height="25" fill="#b22833"/>
<rect x="725" y="399" width="3" height="14" fill="#b22833"/>
<rect x="730" y="367" width="1" height="45" fill="#0f5c1e"/>
<rect x="729" y="368" width="3" height="44" fill="#0f5c1e"/>
<rect x="735" y="372" width="1" height="14" fill="#b22833"/>
<rect x="734" y="378" width="3" height="5" fill="#b22833"/>
<rect x="739" y="364" width="1" height="31" fill="#b22833"/>
<rect x="738" y="369" width="3" height="21" fill="#b22833"/>
<rect x="744" y="372" width="1" height="63" fill="#b22833"/>
<rect x="743" y="391" width="3" height="44" fill="#b22833"/>
<rect x="748" y="438" width="1" height="24" fill="#b22833"/>
<rect x="747" y="446" width="3" height="7" fill="#b22833"/>
<rect x="753" y="417" width="1" height="40" fill="#0f5c1e"/>
<rect x="752" y="429" width="3" height="2" fill="#0f5c1e"/>
<rect x="757" y="409" width="1" height="22" fill="#0f5c1e"/>
<rect x="756" y="412" width="3" height="13" fill="#0f5c1e"/>
<rect x="762" y="388" width="1" height="33" fill="#0f5c1e"/>
<rect x="761" y="402" width="3" height="6" fill="#0f5c1e"/>
<rect x="766" y="407" width="1" height="34" fill="#b22833"/>
<rect x="765" y="410" width="3" height="30" fill="#b22833"/>
<rect x="770" y="343" width="1" height="46" fill="#0f5c1e"/>
<rect x="769" y="344" width="3" height="45" fill="#0f5c1e"/>
<rect x="775" y="323" width="1" height="26" fill="#0f5c1e"/>
<rect x="774" y="326" width="3" height="15" fill="#0f5c1e"/>
<rect x="779" y="320" width="1" height="24" fill="#b22833"/>
<rect x="778" y="334" width="3" height="10" fill="#b22833"/>
<rect x="784" y="310" width="1" height="34" fill="#b22833"/>
<rect x="783" y="321" width="3" height="7" fill="#b22833"/>
<rect x="788" y="331" width="1" height="13" fill="#b22833"/>
<rect x="787" y="334" width="3" height="10" fill="#b22833"/>
<rect x="793" y="345" width="1" height="21" fill="#0f5c1e"/>
<rect x="792" y="348" width="3" height="14" fill="#0f5c1e"/>
<rect x="797" y="333" width="1" height="20" fill="#b22833"/>
<rect x="796" y="339" width="3" height="2" fill="#b22833"/>
<rect x="802" y="341" width="1" height="13" fill="#b22833"/>
<rect x="801" y="344" width="3" height="4" fill="#b22833"/>
</g>
<g clip-path="url(#cm)" fill="none" stroke-width="2" stroke-dasharray="10 12">
<path d="M2.0 326.0 H826.0" stroke="#3ec63e" />
<path d="M2.0 399.0 H333.0" stroke="#e3a3a3" />
<path d="M2.0 408.0 H782.0" stroke="#b65bd0" />
<path d="M2.0 550.0 H782.0" stroke="#a437b8" />
<path d="M2.0 558.0 H826.0" stroke="#b0b0b0" />
<path d="M493.5 555.0 H806.4" stroke="#b0b0b0" />
<path d="M493.5 173.0 H806.4" stroke="#b0b0b0" />
<path d="M493.5 319.0 H806.4" stroke="#b446f6" />
<path d="M493.5 364.0 H806.4" stroke="#7fdc7f" />
<path d="M69.6 32 L417.6 381" stroke="#3939ef" stroke-opacity="0.5"/>
<path d="M391.0 455.7 L507.5 204" stroke="#415fc3" stroke-opacity="0.5"/>
<path d="M498.4 175.3 L688 459.7" stroke="#4646ff"/>
<path d="M619 437.3 L784.5 324.5" stroke="#3030ff"/>
</g>
<g shape-rendering="crispEdges" fill="#b22833">
<rect x="2" y="347" width="1" height="1"/>
<rect x="5" y="347" width="1" height="1"/>
<rect x="8" y="347" width="1" height="1"/>
<rect x="11" y="347" width="1" height="1"/>
<rect x="14" y="347" width="1" height="1"/>
<rect x="17" y="347" width="1" height="1"/>
<rect x="20" y="347" width="1" height="1"/>
<rect x="23" y="347" width="1" height="1"/>
<rect x="26" y="347" width="1" height="1"/>
<rect x="29" y="347" width="1" height="1"/>
<rect x="32" y="347" width="1" height="1"/>
<rect x="35" y="347" width="1" height="1"/>
<rect x="38" y="347" width="1" height="1"/>
<rect x="41" y="347" width="1" height="1"/>
<rect x="44" y="347" width="1" height="1"/>
<rect x="47" y="347" width="1" height="1"/>
<rect x="50" y="347" width="1" height="1"/>
<rect x="53" y="347" width="1" height="1"/>
<rect x="56" y="347" width="1" height="1"/>
<rect x="59" y="347" width="1" height="1"/>
<rect x="62" y="347" width="1" height="1"/>
<rect x="65" y="347" width="1" height="1"/>
<rect x="68" y="347" width="1" height="1"/>
<rect x="71" y="347" width="1" height="1"/>
<rect x="74" y="347" width="1" height="1"/>
<rect x="77" y="347" width="1" height="1"/>
<rect x="80" y="347" width="1" height="1"/>
<rect x="83" y="347" width="1" height="1"/>
<rect x="86" y="347" width="1" height="1"/>
<rect x="89" y="347" width="1" height="1"/>
<rect x="92" y="347" width="1" height="1"/>
<rect x="95" y="347" width="1" height="1"/>
<rect x="98" y="347" width="1" height="1"/>
<rect x="101" y="347" width="1" height="1"/>
<rect x="104" y="347" width="1" height="1"/>
<rect x="107" y="347" width="1" height="1"/>
<rect x="110" y="347" width="1" height="1"/>
<rect x="113" y="347" width="1" height="1"/>
<rect x="116" y="347" width="1" height="1"/>
<rect x="119" y="347" width="1" height="1"/>
<rect x="122" y="347" width="1" height="1"/>
<rect x="125" y="347" width="1" height="1"/>
<rect x="128" y="347" width="1" height="1"/>
<rect x="131" y="347" width="1" height="1"/>
<rect x="134" y="347" width="1" height="1"/>
<rect x="137" y="347" width="1" height="1"/>
<rect x="140" y="347" width="1" height="1"/>
<rect x="143" y="347" width="1" height="1"/>
<rect x="146" y="347" width="1" height="1"/>
<rect x="149" y="347" width="1" height="1"/>
<rect x="152" y="347" width="1" height="1"/>
<rect x="155" y="347" width="1" height="1"/>
<rect x="158" y="347" width="1" height="1"/>
<rect x="161" y="347" width="1" height="1"/>
<rect x="164" y="347" width="1" height="1"/>
<rect x="167" y="347" width="1" height="1"/>
<rect x="170" y="347" width="1" height="1"/>
<rect x="173" y="347" width="1" height="1"/>
<rect x="176" y="347" width="1" height="1"/>
<rect x="179" y="347" width="1" height="1"/>
<rect x="182" y="347" width="1" height="1"/>
<rect x="185" y="347" width="1" height="1"/>
<rect x="188" y="347" width="1" height="1"/>
<rect x="191" y="347" width="1" height="1"/>
<rect x="194" y="347" width="1" height="1"/>
<rect x="197" y="347" width="1" height="1"/>
<rect x="200" y="347" width="1" height="1"/>
<rect x="203" y="347" width="1" height="1"/>
<rect x="206" y="347" width="1" height="1"/>
<rect x="209" y="347" width="1" height="1"/>
<rect x="212" y="347" width="1" height="1"/>
<rect x="215" y="347" width="1" height="1"/>
<rect x="218" y="347" width="1" height="1"/>
<rect x="221" y="347" width="1" height="1"/>
<rect x="224" y="347" width="1" height="1"/>
<rect x="227" y="347" width="1" height="1"/>
<rect x="230" y="347" width="1" height="1"/>
<rect x="233" y="347" width="1" height="1"/>
<rect x="236" y="347" width="1" height="1"/>
<rect x="239" y="347" width="1" height="1"/>
<rect x="242" y="347" width="1" height="1"/>
<rect x="245" y="347" width="1" height="1"/>
<rect x="248" y="347" width="1" height="1"/>
<rect x="251" y="347" width="1" height="1"/>
<rect x="254" y="347" width="1" height="1"/>
<rect x="257" y="347" width="1" height="1"/>
<rect x="260" y="347" width="1" height="1"/>
<rect x="263" y="347" width="1" height="1"/>
<rect x="266" y="347" width="1" height="1"/>
<rect x="269" y="347" width="1" height="1"/>
<rect x="272" y="347" width="1" height="1"/>
<rect x="275" y="347" width="1" height="1"/>
<rect x="278" y="347" width="1" height="1"/>
<rect x="281" y="347" width="1" height="1"/>
<rect x="284" y="347" width="1" height="1"/>
<rect x="287" y="347" width="1" height="1"/>
<rect x="290" y="347" width="1" height="1"/>
<rect x="293" y="347" width="1" height="1"/>
<rect x="296" y="347" width="1" height="1"/>
<rect x="299" y="347" width="1" height="1"/>
<rect x="302" y="347" width="1" height="1"/>
<rect x="305" y="347" width="1" height="1"/>
<rect x="308" y="347" width="1" height="1"/>
<rect x="311" y="347" width="1" height="1"/>
<rect x="314" y="347" width="1" height="1"/>
<rect x="317" y="347" width="1" height="1"/>
<rect x="320" y="347" width="1" height="1"/>
<rect x="323" y="347" width="1" height="1"/>
<rect x="326" y="347" width="1" height="1"/>
<rect x="329" y="347" width="1" height="1"/>
<rect x="332" y="347" width="1" height="1"/>
<rect x="335" y="347" width="1" height="1"/>
<rect x="338" y="347" width="1" height="1"/>
<rect x="341" y="347" width="1" height="1"/>
<rect x="344" y="347" width="1" height="1"/>
<rect x="347" y="347" width="1" height="1"/>
<rect x="350" y="347" width="1" height="1"/>
<rect x="353" y="347" width="1" height="1"/>
<rect x="356" y="347" width="1" height="1"/>
<rect x="359" y="347" width="1" height="1"/>
<rect x="362" y="347" width="1" height="1"/>
<rect x="365" y="347" width="1" height="1"/>
<rect x="368" y="347" width="1" height="1"/>
<rect x="371" y="347" width="1" height="1"/>
<rect x="374" y="347" width="1" height="1"/>
<rect x="377" y="347" width="1" height="1"/>
<rect x="380" y="347" width="1" height="1"/>
<rect x="383" y="347" width="1" height="1"/>
<rect x="386" y="347" width="1" height="1"/>
<rect x="389" y="347" width="1" height="1"/>
<rect x="392" y="347" width="1" height="1"/>
<rect x="395" y="347" width="1" height="1"/>
<rect x="398" y="347" width="1" height="1"/>
<rect x="401" y="347" width="1" height="1"/>
<rect x="404" y="347" width="1" height="1"/>
<rect x="407" y="347" width="1" height="1"/>
<rect x="410" y="347" width="1" height="1"/>
<rect x="413" y="347" width="1" height="1"/>
<rect x="416" y="347" width="1" height="1"/>
<rect x="419" y="347" width="1" height="1"/>
<rect x="422" y="347" width="1" height="1"/>
<rect x="425" y="347" width="1" height="1"/>
<rect x="428" y="347" width="1" height="1"/>
<rect x="431" y="347" width="1" height="1"/>
<rect x="434" y="347" width="1" height="1"/>
<rect x="437" y="347" width="1" height="1"/>
<rect x="440" y="347" width="1" height="1"/>
<rect x="443" y="347" width="1" height="1"/>
<rect x="446" y="347" width="1" height="1"/>
<rect x="449" y="347" width="1" height="1"/>
<rect x="452" y="347" width="1" height="1"/>
<rect x="455" y="347" width="1" height="1"/>
<rect x="458" y="347" width="1" height="1"/>
<rect x="461" y="347" width="1" height="1"/>
<rect x="464" y="347" width="1" height="1"/>
<rect x="467" y="347" width="1" height="1"/>
<rect x="470" y="347" width="1" height="1"/>
<rect x="473" y="347" width="1" height="1"/>
<rect x="476" y="347" width="1" height="1"/>
<rect x="479" y="347" width="1" height="1"/>
<rect x="482" y="347" width="1" height="1"/>
<rect x="485" y="347" width="1" height="1"/>
<rect x="488" y="347" width="1" height="1"/>
<rect x="491" y="347" width="1" height="1"/>
<rect x="494" y="347" width="1" height="1"/>
<rect x="497" y="347" width="1" height="1"/>
<rect x="500" y="347" width="1" height="1"/>
<rect x="503" y="347" width="1" height="1"/>
<rect x="506" y="347" width="1" height="1"/>
<rect x="509" y="347" width="1" height="1"/>
<rect x="512" y="347" width="1" height="1"/>
<rect x="515" y="347" width="1" height="1"/>
<rect x="518" y="347" width="1" height="1"/>
<rect x="521" y="347" width="1" height="1"/>
<rect x="524" y="347" width="1" height="1"/>
<rect x="527" y="347" width="1" height="1"/>
<rect x="530" y="347" width="1" height="1"/>
<rect x="533" y="347" width="1" height="1"/>
<rect x="536" y="347" width="1" height="1"/>
<rect x="539" y="347" width="1" height="1"/>
<rect x="542" y="347" width="1" height="1"/>
<rect x="545" y="347" width="1" height="1"/>
<rect x="548" y="347" width="1" height="1"/>
<rect x="551" y="347" width="1" height="1"/>
<rect x="554" y="347" width="1" height="1"/>
<rect x="557" y="347" width="1" height="1"/>
<rect x="560" y="347" width="1" height="1"/>
<rect x="563" y="347" width="1" height="1"/>
<rect x="566" y="347" width="1" height="1"/>
<rect x="569" y="347" width="1" height="1"/>
<rect x="572" y="347" width="1" height="1"/>
<rect x="575" y="347" width="1" height="1"/>
<rect x="578" y="347" width="1" height="1"/>
<rect x="581" y="347" width="1" height="1"/>
<rect x="584" y="347" width="1" height="1"/>
<rect x="587" y="347" width="1" height="1"/>
<rect x="590" y="347" width="1" height="1"/>
<rect x="593" y="347" width="1" height="1"/>
<rect x="596" y="347" width="1" height="1"/>
<rect x="599" y="347" width="1" height="1"/>
<rect x="602" y="347" width="1" height="1"/>
<rect x="605" y="347" width="1" height="1"/>
<rect x="608" y="347" width="1" height="1"/>
<rect x="611" y="347" width="1" height="1"/>
<rect x="614" y="347" width="1" height="1"/>
<rect x="617" y="347" width="1" height="1"/>
<rect x="620" y="347" width="1" height="1"/>
<rect x="623" y="347" width="1" height="1"/>
<rect x="626" y="347" width="1" height="1"/>
<rect x="629" y="347" width="1" height="1"/>
<rect x="632" y="347" width="1" height="1"/>
<rect x="635" y="347" width="1" height="1"/>
<rect x="638" y="347" width="1" height="1"/>
<rect x="641" y="347" width="1" height="1"/>
<rect x="644" y="347" width="1" height="1"/>
<rect x="647" y="347" width="1" height="1"/>
<rect x="650" y="347" width="1" height="1"/>
<rect x="653" y="347" width="1" height="1"/>
<rect x="656" y="347" width="1" height="1"/>
<rect x="659" y="347" width="1" height="1"/>
<rect x="662" y="347" width="1" height="1"/>
<rect x="665" y="347" width="1" height="1"/>
<rect x="668" y="347" width="1" height="1"/>
<rect x="671" y="347" width="1" height="1"/>
<rect x="674" y="347" width="1" height="1"/>
<rect x="677" y="347" width="1" height="1"/>
<rect x="680" y="347" width="1" height="1"/>
<rect x="683" y="347" width="1" height="1"/>
<rect x="686" y="347" width="1" height="1"/>
<rect x="689" y="347" width="1" height="1"/>
<rect x="692" y="347" width="1" height="1"/>
<rect x="695" y="347" width="1" height="1"/>
<rect x="698" y="347" width="1" height="1"/>
<rect x="701" y="347" width="1" height="1"/>
<rect x="704" y="347" width="1" height="1"/>
<rect x="707" y="347" width="1" height="1"/>
<rect x="710" y="347" width="1" height="1"/>
<rect x="713" y="347" width="1" height="1"/>
<rect x="716" y="347" width="1" height="1"/>
<rect x="719" y="347" width="1" height="1"/>
<rect x="722" y="347" width="1" height="1"/>
<rect x="725" y="347" width="1" height="1"/>
<rect x="728" y="347" width="1" height="1"/>
<rect x="731" y="347" width="1" height="1"/>
<rect x="734" y="347" width="1" height="1"/>
<rect x="737" y="347" width="1" height="1"/>
<rect x="740" y="347" width="1" height="1"/>
<rect x="743" y="347" width="1" height="1"/>
<rect x="746" y="347" width="1" height="1"/>
<rect x="749" y="347" width="1" height="1"/>
<rect x="752" y="347" width="1" height="1"/>
<rect x="755" y="347" width="1" height="1"/>
<rect x="758" y="347" width="1" height="1"/>
<rect x="761" y="347" width="1" height="1"/>
<rect x="764" y="347" width="1" height="1"/>
<rect x="767" y="347" width="1" height="1"/>
<rect x="770" y="347" width="1" height="1"/>
<rect x="773" y="347" width="1" height="1"/>
<rect x="776" y="347" width="1" height="1"/>
<rect x="779" y="347" width="1" height="1"/>
<rect x="782" y="347" width="1" height="1"/>
<rect x="785" y="347" width="1" height="1"/>
<rect x="788" y="347" width="1" height="1"/>
<rect x="791" y="347" width="1" height="1"/>
<rect x="794" y="347" width="1" height="1"/>
<rect x="797" y="347" width="1" height="1"/>
<rect x="800" y="347" width="1" height="1"/>
<rect x="803" y="347" width="1" height="1"/>
<rect x="806" y="347" width="1" height="1"/>
<rect x="809" y="347" width="1" height="1"/>
<rect x="812" y="347" width="1" height="1"/>
<rect x="815" y="347" width="1" height="1"/>
<rect x="818" y="347" width="1" height="1"/>
<rect x="821" y="347" width="1" height="1"/>
<rect x="824" y="347" width="1" height="1"/>
<rect x="827" y="347" width="1" height="1"/>
<rect x="830" y="347" width="1" height="1"/>
<rect x="833" y="347" width="1" height="1"/>
</g>
<g font-size="12.4">
<text x="485.5" y="176.9" text-anchor="end" fill="#b0b0b0" textLength="55.5" lengthAdjust="spacingAndGlyphs">1(4328.72)</text>
<text x="485.5" y="323" text-anchor="end" fill="#c372fa" textLength="80" lengthAdjust="spacingAndGlyphs">0.618(4009.79)</text>
<text x="485.5" y="368.4" text-anchor="end" fill="#85dd85" textLength="67.5" lengthAdjust="spacingAndGlyphs">0.5(3911.27)</text>
<text x="485.5" y="558.9" text-anchor="end" fill="#b0b0b0" textLength="56.5" lengthAdjust="spacingAndGlyphs">0(3493.82)</text>
</g>
<g clip-path="url(#cm)" font-size="12.4" fill="#e0949a"><text x="7.6" y="412.8" text-anchor="end">n</text><text x="10.6" y="412.8" textLength="21.8" lengthAdjust="spacingAndGlyphs">ATH</text><text x="17.5" y="424.8" text-anchor="end">4836</text></g>
<g clip-path="url(#ci)"><path d="M-1.0 630.0 L3.5 597.3 L7.5 601.6 L12.5 601.3 L16.5 599.6 L21.5 642.3 L25.5 652.1 L29.5 633.6 L34.5 611.1 L38.5 588.0 L43.5 568.0 L47.5 560.0 L52.5 572.0 L56.5 608.6 L61.5 637.1 L65.5 650.9 L70.5 636.5 L74.5 653.0 L79.5 651.8 L83.5 656.9 L88.5 676.8 L92.5 679.4 L96.5 647.4 L101.5 652.6 L105.5 666.4 L110.5 648.3 L114.5 631.9 L119.5 633.6 L123.5 671.6 L128.5 664.7 L132.5 666.4 L137.5 684.6 L141.5 669.9 L146.5 608.6 L150.5 580.0 L154.5 550.0 L159.5 550.0 L163.5 550.0 L168.5 555.0 L172.5 572.0 L177.5 607.7 L181.5 609.9 L186.5 605.4 L190.5 604.2 L195.5 560.0 L199.5 555.0 L204.5 555.0 L208.5 555.0 L213.5 555.0 L217.5 570.0 L221.5 611.1 L226.5 606.0 L230.5 604.2 L235.5 576.1 L239.5 577.5 L244.5 576.6 L248.5 578.3 L253.5 591.3 L257.5 565.0 L262.5 568.0 L266.5 576.1 L271.5 575.7 L275.5 612.5 L279.5 648.8 L284.5 688.0 L288.5 687.2 L293.5 652.6 L297.5 572.0 L302.5 555.0 L306.5 555.0 L311.5 555.0 L315.5 555.0 L320.5 555.0 L324.5 560.0 L329.5 619.3 L333.5 620.7 L337.5 560.0 L342.5 555.0 L346.5 569.0 L351.5 602.5 L355.5 603.4 L360.5 617.2 L364.5 617.2 L369.5 618.1 L373.5 620.7 L378.5 636.5 L382.5 635.3 L387.5 636.5 L391.5 635.9 L396.5 623.2 L400.5 625.0 L404.5 623.8 L409.5 614.6 L413.5 593.0 L418.5 579.2 L422.5 575.7 L427.5 629.3 L431.5 629.3 L436.5 641.7 L440.5 648.3 L445.5 614.1 L449.5 610.8 L454.5 609.9 L458.5 599.1 L462.5 625.8 L467.5 648.3 L471.5 685.4 L476.5 685.4 L480.5 670.8 L485.5 657.8 L489.5 646.6 L494.5 636.2 L498.5 628.9 L503.5 627.9 L507.5 665.6 L512.5 677.7 L516.5 634.5 L520.5 630.2 L525.5 628.4 L529.5 643.1 L534.5 607.7 L538.5 599.1 L543.5 604.2 L547.5 596.5 L552.5 570.0 L556.5 555.0 L561.5 562.0 L565.5 641.4 L570.5 653.5 L574.5 631.0 L579.5 611.1 L583.5 605.4 L587.5 606.0 L592.5 605.1 L596.5 570.0 L601.5 555.0 L605.5 572.0 L610.5 598.0 L614.5 612.4 L619.5 565.0 L623.5 574.0 L628.5 560.0 L632.5 560.0 L637.5 574.0 L641.5 617.5 L645.5 648.3 L650.5 612.0 L654.5 605.6 L659.5 603.7 L663.5 599.9 L668.5 598.5 L672.5 588.2 L677.5 587.0 L681.5 560.0 L686.5 568.0 L690.5 604.2 L695.5 565.0 L699.5 555.0 L704.5 560.0 L708.5 575.0 L712.5 601.6 L717.5 607.7 L721.5 597.0 L726.5 596.1 L730.5 587.8 L735.5 586.4 L739.5 642.3 L744.5 650.0 L748.5 609.4 L753.5 611.7 L757.5 612.9 L762.5 614.1 L766.5 610.3 L770.5 579.2 L775.5 560.0 L779.5 570.0 L784.5 576.0 L788.5 575.4 L793.5 576.0 L797.5 644.8 L802.5 675.1" fill="none" stroke="#673ab7" stroke-opacity="0.55" stroke-width="4" stroke-linejoin="round" stroke-linecap="round"/></g>
<circle cx="26" cy="19" r="9" fill="#f0f0f2"/><rect x="21" y="17.2" width="10" height="3.6" rx="1.8" fill="#9598a1"/>
<g font-size="13.8">
<text x="50.8" y="25.4" fill="#131722" textLength="8.6" lengthAdjust="spacingAndGlyphs" >O</text>
<text x="61" y="25.4" fill="#b22833" textLength="45" lengthAdjust="spacingAndGlyphs" >3956.23</text>
<text x="112.4" y="25.4" fill="#131722" textLength="8.4" lengthAdjust="spacingAndGlyphs" >H</text>
<text x="122.5" y="25.4" fill="#b22833" textLength="45" lengthAdjust="spacingAndGlyphs" >3962.00</text>
<text x="174.3" y="25.4" fill="#131722" textLength="6.4" lengthAdjust="spacingAndGlyphs" >L</text>
<text x="181" y="25.4" fill="#b22833" textLength="45" lengthAdjust="spacingAndGlyphs" >3933.34</text>
<text x="232.7" y="25.4" fill="#131722" textLength="7.8" lengthAdjust="spacingAndGlyphs" >C</text>
<text x="242" y="25.4" fill="#b22833" textLength="45" lengthAdjust="spacingAndGlyphs" >3949.95</text>
<text x="294" y="25.4" fill="#b22833" textLength="38.5" lengthAdjust="spacingAndGlyphs" >&#8722;15.38</text>
<text x="338" y="25.4" fill="#b22833" textLength="47" lengthAdjust="spacingAndGlyphs" >(&#8722;0.39%)</text>
</g>
<rect x="11.5" y="33.5" width="31.0" height="19.7" rx="3" fill="#fff" fill-opacity="0.85" stroke="#ced2de" stroke-width="1"/>
<path d="M18.0 41.9 l3.5 3.3 l3.5 -3.3" fill="none" stroke="#131722" stroke-width="1.3" stroke-linecap="round" stroke-linejoin="round"/>
<text x="31.2" y="48.0" font-size="13" fill="#131722" textLength="6.3" lengthAdjust="spacingAndGlyphs">5</text>
<rect x="11.5" y="582.5" width="38.0" height="19.7" rx="3" fill="#fff" fill-opacity="0.85" stroke="#ced2de" stroke-width="1"/>
<path d="M18.0 590.9 l3.5 3.3 l3.5 -3.3" fill="none" stroke="#131722" stroke-width="1.3" stroke-linecap="round" stroke-linejoin="round"/>
<text x="31.5" y="597.0" font-size="13" fill="#131722" textLength="13" lengthAdjust="spacingAndGlyphs">13</text>
<g font-size="12.6" fill="#131722">
<text x="877" y="54.1" textLength="42" lengthAdjust="spacingAndGlyphs">4600.00</text>
<text x="877" y="100.1" textLength="42" lengthAdjust="spacingAndGlyphs">4500.00</text>
<text x="877" y="145.1" textLength="42" lengthAdjust="spacingAndGlyphs">4400.00</text>
<text x="877" y="191.1" textLength="42" lengthAdjust="spacingAndGlyphs">4300.00</text>
<text x="877" y="237.1" textLength="42" lengthAdjust="spacingAndGlyphs">4200.00</text>
<text x="877" y="282.1" textLength="42" lengthAdjust="spacingAndGlyphs">4100.00</text>
<text x="877" y="328.1" textLength="42" lengthAdjust="spacingAndGlyphs">4000.00</text>
<text x="877" y="374.1" textLength="42" lengthAdjust="spacingAndGlyphs">3900.00</text>
<text x="877" y="420.1" textLength="42" lengthAdjust="spacingAndGlyphs">3800.00</text>
<text x="877" y="465.1" textLength="42" lengthAdjust="spacingAndGlyphs">3700.00</text>
<text x="877" y="557.1" textLength="42" lengthAdjust="spacingAndGlyphs">3500.00</text>
<text x="877" y="608.1" textLength="22.5" lengthAdjust="spacingAndGlyphs">0.06</text>
<text x="877" y="656.4" textLength="22.5" lengthAdjust="spacingAndGlyphs">0.04</text>
<text x="877" y="20.2" font-size="12.8" textLength="20.5" lengthAdjust="spacingAndGlyphs">USD</text>
<path d="M900.9 14 l2.5 2.5 l2.5 -2.5" fill="none" stroke="#131722" stroke-width="1.2" stroke-linecap="round" stroke-linejoin="round"/>
</g>
<path d="M867.60 285.90 H923.90 Q925.90 285.90 925.90 287.90 V300.60 Q925.90 302.60 923.90 302.60 H867.60 Q867.10 302.60 867.10 302.10 V286.40 Q867.10 285.90 867.60 285.90 Z" fill="#f23645"/>
<text x="877.1" y="298.9" font-size="12.6" font-weight="bold" fill="#fff" stroke="#f23645" stroke-width="0.3" textLength="41.6" lengthAdjust="spacingAndGlyphs">4064.59</text>
<path d="M837.20 339.10 H865.50 Q865.80 339.10 865.80 339.40 V355.50 Q865.80 355.80 865.50 355.80 H837.20 Q835.20 355.80 835.20 353.80 V341.10 Q835.20 339.10 837.20 339.10 Z" fill="#b22833"/>
<text x="840.8" y="352.1" font-size="12.6" font-weight="bold" fill="#fff" stroke="#b22833" stroke-width="0.3" textLength="19.6" lengthAdjust="spacingAndGlyphs">SPX</text>
<path d="M867.40 338.90 H923.90 Q925.90 338.90 925.90 340.90 V355.50 Q925.90 356.00 925.40 356.00 H867.40 Q867.10 356.00 867.10 355.70 V339.20 Q867.10 338.90 867.40 338.90 Z" fill="#b22833"/>
<text x="877.1" y="352.1" font-size="12.6" font-weight="bold" fill="#fff" stroke="#b22833" stroke-width="0.3" textLength="41.6" lengthAdjust="spacingAndGlyphs">3949.95</text>
<path d="M867.40 356.00 H925.40 Q925.90 356.00 925.90 356.50 V370.70 Q925.90 372.70 923.90 372.70 H867.60 Q867.10 372.70 867.10 372.20 V356.30 Q867.10 356.00 867.40 356.00 Z" fill="#2962ff"/>
<text x="877.1" y="369.0" font-size="12.6" font-weight="bold" fill="#fff" stroke="#2962ff" stroke-width="0.3" textLength="41.6" lengthAdjust="spacingAndGlyphs">3911.98</text>
<path d="M867.60 501.10 H917.70 Q919.70 501.10 919.70 503.10 V515.80 Q919.70 517.80 917.70 517.80 H867.60 Q867.10 517.80 867.10 517.30 V501.60 Q867.10 501.10 867.60 501.10 Z" fill="#ef5350"/>
<text x="877.1" y="514.1" font-size="12.6" font-weight="bold" fill="#fff" stroke="#ef5350" stroke-width="0.3" textLength="36.3" lengthAdjust="spacingAndGlyphs">2.068B</text>
<path d="M867.60 666.30 H904.90 Q906.90 666.30 906.90 668.30 V680.90 Q906.90 682.90 904.90 682.90 H867.60 Q867.10 682.90 867.10 682.40 V666.80 Q867.10 666.30 867.60 666.30 Z" fill="#673ab7"/>
<text x="877.5" y="679.2" font-size="12.6" font-weight="bold" fill="#fff" stroke="#673ab7" stroke-width="0.3" textLength="23" lengthAdjust="spacingAndGlyphs">0.03</text>
<g font-size="12" fill="#131722" text-anchor="middle">
<text x="83.5" y="718">Apr</text>
<text x="172.5" y="718">May</text>
<text x="266.5" y="718">Jun</text>
<text x="360.5" y="718">Jul</text>
<text x="449.5" y="718">Aug</text>
<text x="552.5" y="718">Sep</text>
<text x="645.5" y="718">Oct</text>
<text x="739.5" y="718">Nov</text>
<text x="833.5" y="718">Dec</text>
</g>
<g stroke="#131722" fill="none" stroke-width="1.05"><circle cx="899.45" cy="714.50" r="4.85"/>
<path d="M904.65 714.50 L906.95 714.50" stroke-width="1.3"/>
<path d="M899.45 719.70 L899.45 722.00" stroke-width="1.3"/>
<path d="M894.25 714.50 L891.95 714.50" stroke-width="1.3"/>
<path d="M899.45 709.30 L899.45 707.00" stroke-width="1.3"/>
<path d="M903.06 718.11 L903.62 718.67" stroke-width="1.6"/>
<circle cx="904.51" cy="719.56" r="0.55" fill="#131722" stroke-width="0.4"/>
<path d="M895.84 718.11 L895.28 718.67" stroke-width="1.6"/>
<circle cx="894.39" cy="719.56" r="0.55" fill="#131722" stroke-width="0.4"/>
<path d="M895.84 710.89 L895.28 710.33" stroke-width="1.6"/>
<circle cx="894.39" cy="709.44" r="0.55" fill="#131722" stroke-width="0.4"/>
<path d="M903.06 710.89 L903.62 710.33" stroke-width="1.6"/>
<circle cx="904.51" cy="709.44" r="0.55" fill="#131722" stroke-width="0.4"/>
</g>
</svg></body></html>
